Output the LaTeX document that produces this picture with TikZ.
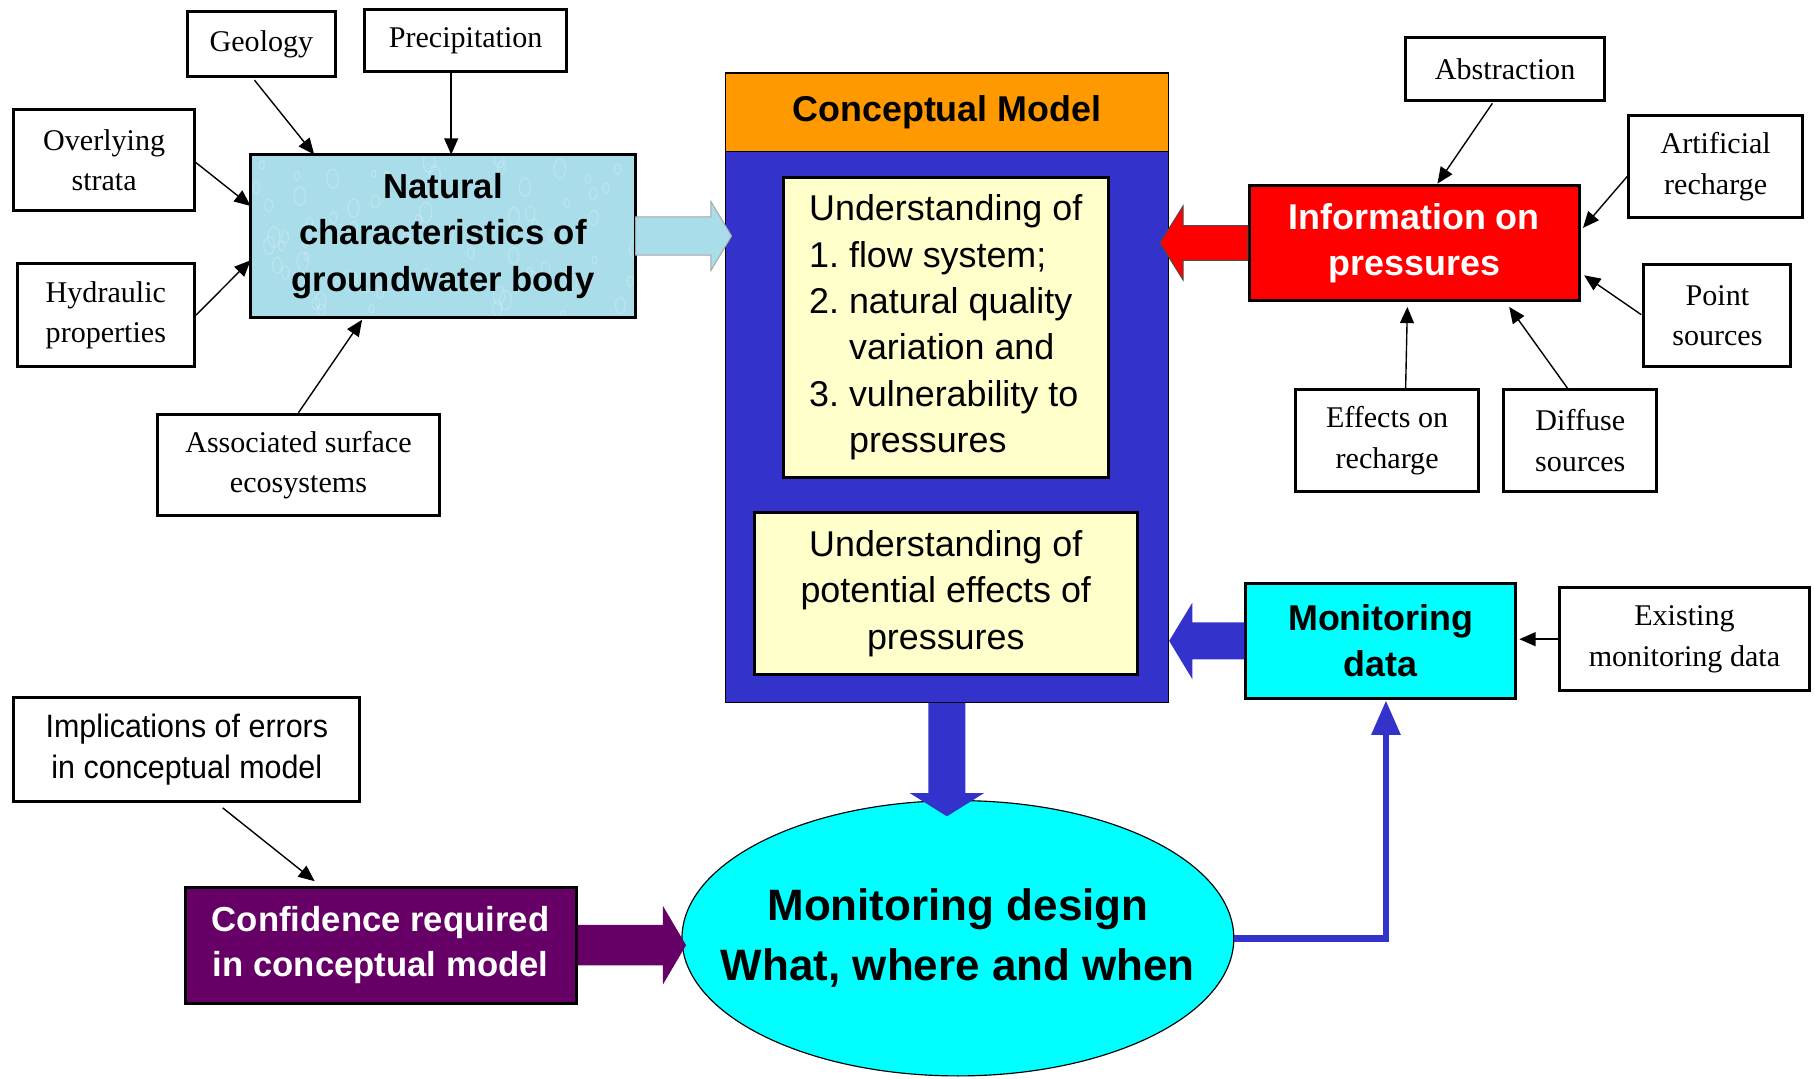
\documentclass[tikz,border=0pt]{standalone}
\usepackage{fontspec}
\setmainfont{Liberation Serif}
\setsansfont{Liberation Sans}
\usetikzlibrary{arrows.meta,calc,shapes.geometric}
\definecolor{cmorange}{HTML}{FF9900}
\definecolor{cmblue}{HTML}{3333CC}
\definecolor{cmyellow}{HTML}{FFFFCC}
\definecolor{natblue}{HTML}{A9DDE9}
\definecolor{cmcyan}{HTML}{00FFFF}
\definecolor{cmpurple}{HTML}{660066}
\definecolor{cmred}{HTML}{FF0000}
% #1 style, #2 start coordinate, #3 tip coordinate, #4 shaft half width, #5 head half width, #6 head length
\newcommand\blockarrow[6]{%
  \coordinate (bb-tmp) at ($(#3)!#6!(#2)$);
  \filldraw[#1] ($(#2)!#4!90:(#3)$) -- ($(bb-tmp)!#4!-90:(#2)$) -- ($(bb-tmp)!#5!-90:(#2)$) -- (#3)
     -- ($(bb-tmp)!#5!90:(#2)$) -- ($(bb-tmp)!#4!90:(#2)$) -- ($(#2)!#4!-90:(#3)$) -- cycle;
}
\begin{document}
\begin{tikzpicture}[x=0.5pt,y=-0.5pt,
  sbox/.style={draw=black,line width=1.3pt,fill=white,inner sep=0pt,align=center,
    font=\fontsize{13}{17.5}\selectfont},
  boldsans/.style={font=\sffamily\bfseries\fontsize{15.5}{20}\selectfont},
  cbox/.style={draw=black,line width=1.3pt,inner sep=0pt,align=center},
  ubox/.style={draw=black,line width=1.3pt,fill=cmyellow,inner sep=0pt,
    font=\sffamily\fontsize{15.5}{20}\selectfont},
  sarr/.style={line width=0.6pt,-{Triangle[length=7pt,width=6pt]}},
]
\useasboundingbox (0,0) rectangle (1568,932);
\fill[white] (0,0) rectangle (1568,932);

% ---------- left cluster ----------
\node[sbox,minimum width=64pt,minimum height=28pt] (geo) at (226,38) {Geology};
\node[sbox,minimum width=87.5pt,minimum height=27pt] (prec) at (402.5,35) {Precipitation};
\node[sbox,minimum width=78pt,minimum height=43.5pt] (over) at (90,138.5) {Overlying\\strata};
\node[sbox,minimum width=76.5pt,minimum height=44.5pt] (hyd) at (91.5,272.5) {Hydraulic\\properties};
\node[sbox,minimum width=122pt,minimum height=44pt] (assoc) at (258,402) {Associated surface\\ecosystems};
\node[fill=natblue,inner sep=0pt,minimum width=166pt,minimum height=70pt] (nat) at (383,204) {};
\begin{scope}
  \clip (nat.south west) rectangle (nat.north east);
  \pgfmathsetseed{7}
  \foreach \i in {1,...,70}{
    \pgfmathsetmacro{\rx}{220+330*rnd}
    \pgfmathsetmacro{\ry}{136+136*rnd}
    \pgfmathsetmacro{\rr}{3+6*rnd}
    \draw[white,opacity=0.22,line width=0.5pt] (\rx,\ry) ellipse ({\rr*0.6} and \rr);
  }
\end{scope}
\draw[line width=1.3pt] (nat.south west) rectangle (nat.north east);
\node[align=center,font=\sffamily\bfseries\fontsize{15}{20}\selectfont] (nattext) at (nat.center)
  {Natural\\characteristics of\\groundwater body};

% ---------- conceptual model ----------
\node[draw=black,line width=0.6pt,fill=cmblue,inner sep=0pt,minimum width=191.5pt,minimum height=238.5pt] (cmbody) at (818.5,368.5) {};
\node[draw=black,line width=0.6pt,fill=cmorange,inner sep=0pt,minimum width=191.5pt,minimum height=34pt,boldsans] (cmhead) at (818.5,97) {Conceptual Model};
\node[ubox,minimum width=140.5pt,minimum height=130pt,align=left] (u1) at (817.5,283)
  {Understanding of\\1.\ flow system;\\2.\ natural quality\\\phantom{2.\ }variation and\\3.\ vulnerability to\\\phantom{3.\ }pressures};
\node[ubox,minimum width=165.5pt,minimum height=70pt,align=center] (u2) at (817.5,513)
  {Understanding of\\potential effects of\\pressures};

% ---------- right cluster ----------
\node[cbox,boldsans,fill=cmred,text=white,minimum width=142.5pt,minimum height=50pt] (info) at (1222.5,210) {Information on\\pressures};
\node[sbox,minimum width=86pt,minimum height=27.5pt] (abs) at (1301,59.5) {Abstraction};
\node[sbox,minimum width=75pt,minimum height=44pt] (art) at (1483,144) {Artificial\\recharge};
\node[sbox,minimum width=63.5pt,minimum height=44pt] (pt) at (1484.5,273) {Point\\sources};
\node[sbox,minimum width=79pt,minimum height=44pt] (eff) at (1199,381) {Effects on\\recharge};
\node[sbox,minimum width=66pt,minimum height=44pt] (dif) at (1366,381) {Diffuse\\sources};
\node[cbox,boldsans,fill=cmcyan,minimum width=116.5pt,minimum height=50pt] (mon) at (1193.5,554) {Monitoring\\data};
\node[sbox,minimum width=108pt,minimum height=44.5pt] (exist) at (1456,552.5) {Existing\\monitoring data};

% ---------- bottom ----------
\node[sbox,minimum width=149.5pt,minimum height=45pt,
  font=\sffamily\addfontfeature{FakeStretch=0.94}\fontsize{14}{17.5}\selectfont] (impl) at (161.5,648)
  {Implications of errors\\in conceptual model};
\node[cbox,fill=cmpurple,text=white,minimum width=169pt,minimum height=50pt,
  font=\sffamily\bfseries\fontsize{15}{19.5}\selectfont] (conf) at (329,817)
  {Confidence required\\in conceptual model};
\node[ellipse,draw=black,line width=0.5pt,fill=cmcyan,inner sep=0pt,minimum width=238.5pt,minimum height=119pt] (ell) at (828,811) {};
\node[align=center,font=\sffamily\bfseries\fontsize{19}{26}\selectfont] (elltext) at (ell.center)
  {Monitoring design\\What, where and when};

% ---------- block arrows ----------
\coordinate (na1) at (nat.east);
\coordinate (na2) at ($(nat.east -| cmbody.west)+(6,0)$);
\blockarrow{fill=natblue,draw=gray!70,line width=0.4pt}{na1}{na2}{8.25pt}{15pt}{9pt}

\coordinate (ia1) at (info.west);
\coordinate (ia2) at ($(info.west -| cmbody.east)+(-8,0)$);
\blockarrow{fill=cmred,draw=black!70,line width=0.4pt}{ia1}{ia2}{7.5pt}{16pt}{10pt}

\coordinate (ma1) at (mon.west);
\coordinate (ma2) at (mon.west -| cmbody.east);
\blockarrow{fill=cmblue,draw=none}{ma1}{ma2}{8pt}{16.5pt}{10pt}

\coordinate (ca1) at (cmbody.south);
\coordinate (ca2) at ($(cmbody.south)+(0,98)$);
\blockarrow{fill=cmblue,draw=none}{ca1}{ca2}{8pt}{16pt}{10pt}

\coordinate (pa1) at (conf.east);
\coordinate (pa2) at ($(conf.east -| ell.west)+(4,0)$);
\blockarrow{fill=cmpurple,draw=none}{pa1}{pa2}{8.75pt}{17pt}{10pt}

% ---------- ellipse to monitoring data ----------
\draw[cmblue,line width=3pt,-{Triangle[length=15pt,width=12pt]}]
  (ell.east) -| ($(mon.south)+(4.5,0)$);

% ---------- small arrows ----------
\draw[sarr] ($(geo.south)+(-6,2)$) -- ($(nat.north west)+(55,0)$);
\draw[sarr] ($(prec.south)+(-12.5,0)$) -- ($(nat.north)+(7,0)$);
\draw[sarr] ($(over.east)+(0,2)$) -- ($(nat.west)+(0,-26)$);
\draw[sarr] (hyd.east) -- ($(nat.west)+(0,21)$);
\draw[sarr] (assoc.north) -- ($(nat.south)+(-70,2)$);

\draw[sarr] ($(abs.south)+(-11,1)$) -- ($(info.north)+(20,0)$);
\draw[sarr] ($(art.west)+(2,6)$) -- ($(info.east)+(2,-13)$);
\draw[sarr] ($(pt.west)+(-1,-1)$) -- ($(info.east)+(3,28)$);
\draw[sarr] ($(eff.north)+(16,0)$) -- ($(info.south)+(-6,4)$);
\draw[sarr] ($(dif.north)+(-11,0)$) -- ($(info.south)+(82,4)$);
\draw[sarr] (exist.west) -- ($(exist.west -| mon.east)+(2,0)$);
\draw[sarr] ($(impl.south)+(31,4)$) -- ($(conf.north)+(-57,-4)$);
\end{tikzpicture}
\end{document}
